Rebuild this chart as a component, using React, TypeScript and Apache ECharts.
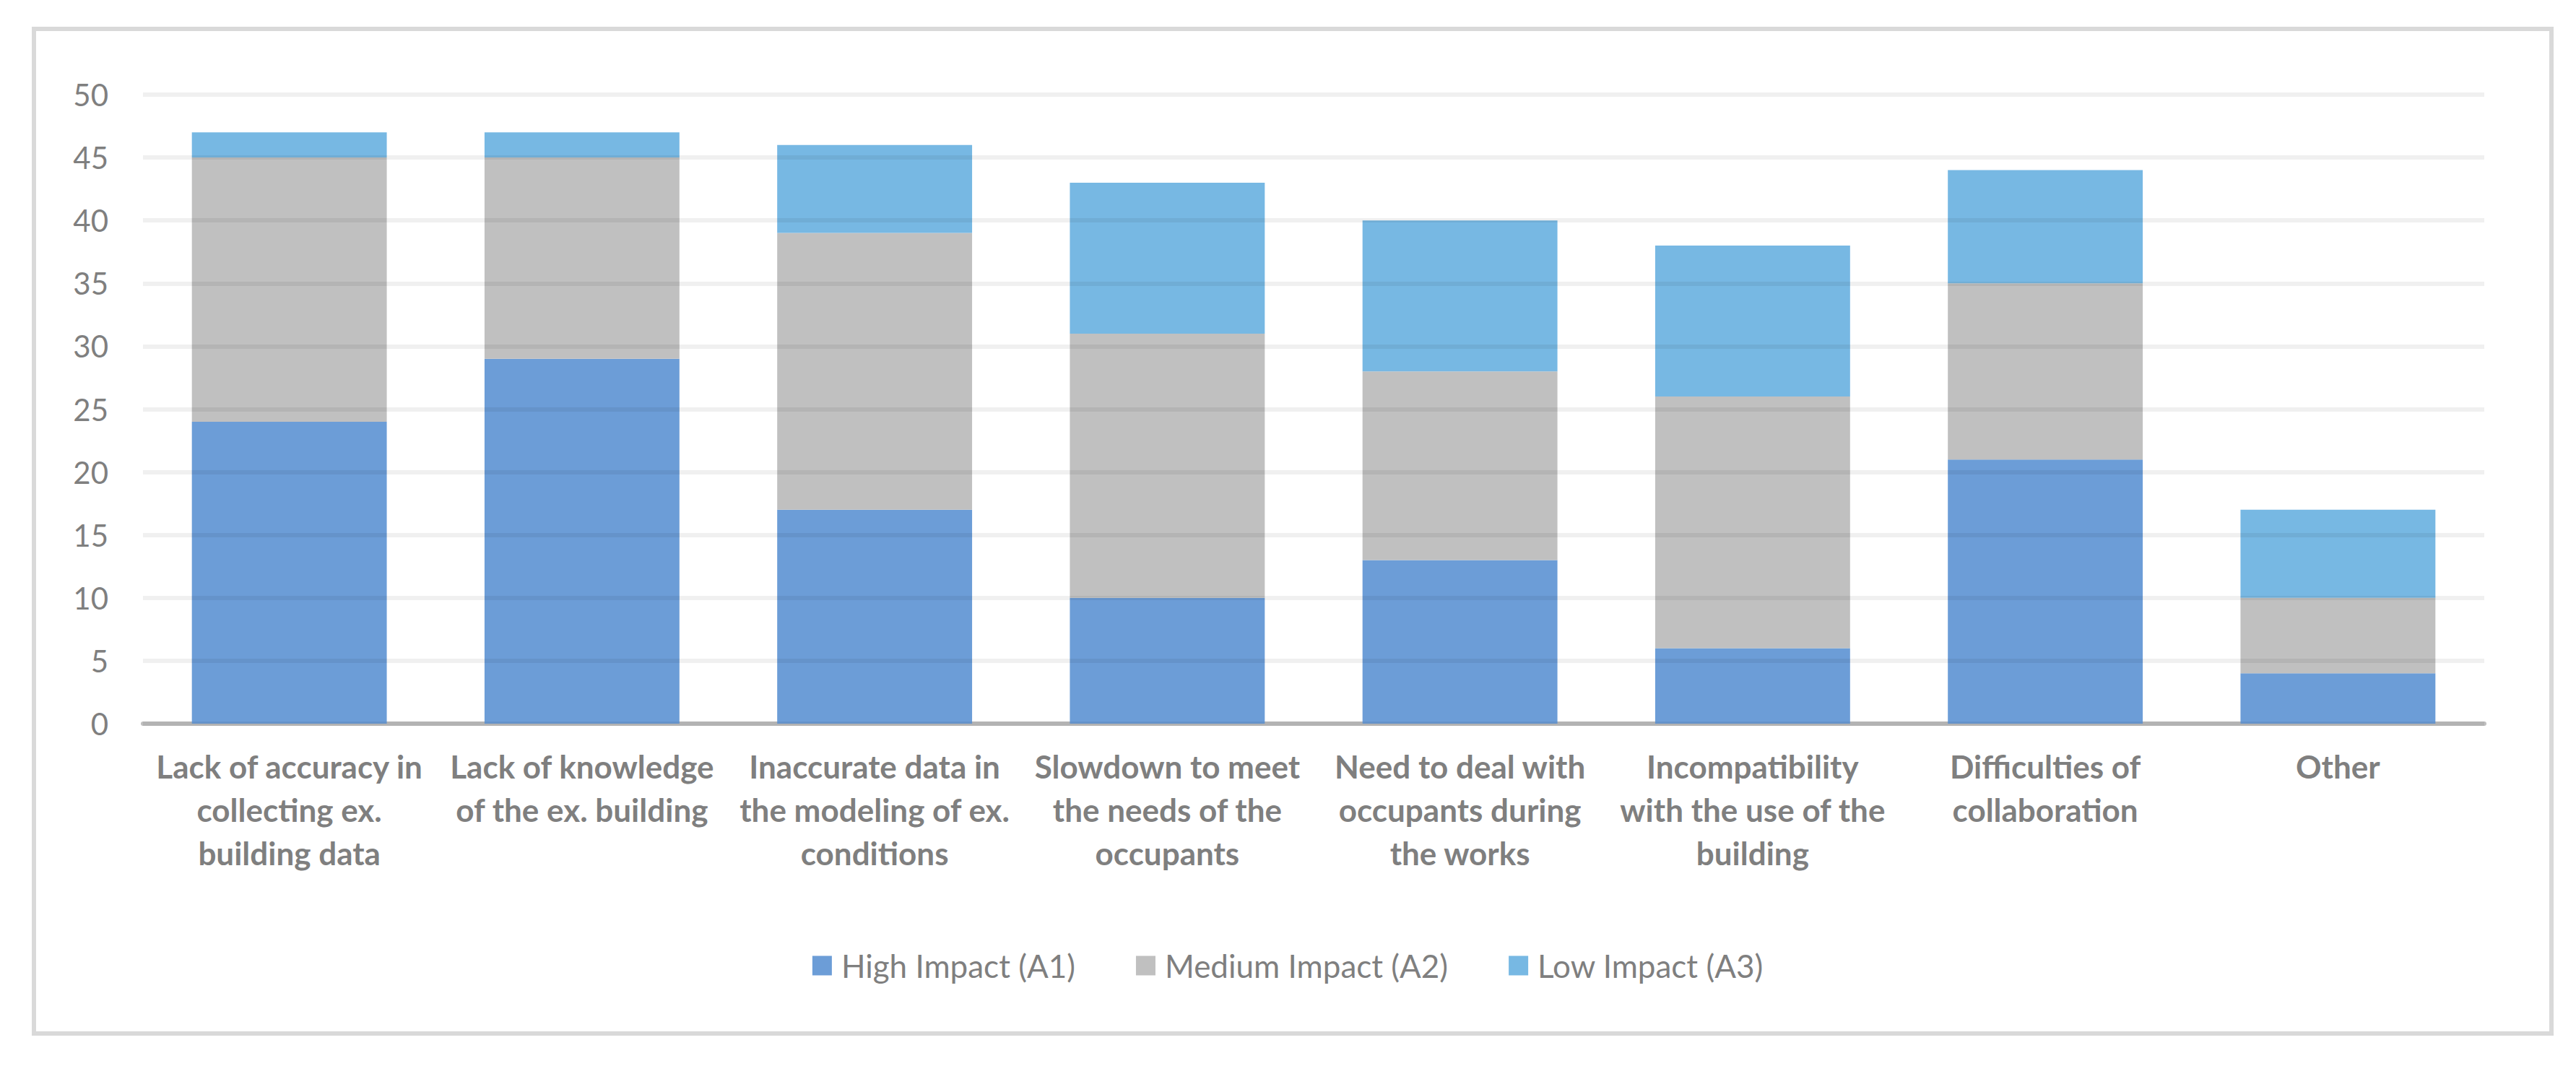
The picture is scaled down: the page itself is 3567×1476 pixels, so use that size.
import React, { useEffect, useRef } from "react";
import * as echarts from "echarts";

const categories = [
  "Lack of accuracy in\ncollecting ex.\nbuilding data",
  "Lack of knowledge\nof the ex. building",
  "Inaccurate data in\nthe modeling of ex.\nconditions",
  "Slowdown to meet\nthe needs of the\noccupants",
  "Need to deal with\noccupants during\nthe works",
  "Incompatibility\nwith the use of the\nbuilding",
  "Difficulties of\ncollaboration",
  "Other",
];

const seriesNames = ["High Impact (A1)", "Medium Impact (A2)", "Low Impact (A3)"];
const highImpact = [24, 29, 17, 10, 13, 6, 21, 4];
const mediumImpact = [21, 16, 22, 21, 15, 20, 14, 6];
const lowImpact = [2, 2, 7, 12, 12, 12, 9, 7];
const seriesColors = ["#6c9dd7", "#c0c0c0", "#77b8e3"];

const yMin = 0;
const yMax = 50;
const yInterval = 5;

export default function App() {
  const ref = useRef<HTMLDivElement>(null);

  useEffect(() => {
    document.body.style.margin = "0";
    if (!ref.current) return;
    const chart = echarts.init(ref.current, undefined, { renderer: "svg" });
    const data = [highImpact, mediumImpact, lowImpact];
    chart.setOption({
      animation: false,
      backgroundColor: "#ffffff",
      textStyle: { fontFamily: "Lato, 'Open Sans', sans-serif" },
      graphic: [
        {
          type: "rect",
          shape: { x: 47, y: 40, width: 3486, height: 1391 },
          style: { fill: "none", stroke: "#d9d9d9", lineWidth: 6 },
          silent: true,
        },
      ],
      grid: { left: 198, right: 127, top: 131, bottom: 474, containLabel: false },
      legend: {
        data: seriesNames,
        left: "center",
        top: 1310,
        itemWidth: 27,
        itemHeight: 27,
        itemGap: 84,
        icon: "rect",
        textStyle: {
          fontSize: 44,
          color: "#7f7f7f",
          fontFamily: "Lato, 'Open Sans', sans-serif",
          padding: [0, 0, 0, 8],
        },
      },
      xAxis: {
        type: "category",
        data: categories,
        axisTick: { show: false },
        axisLine: { lineStyle: { color: "#bfbfbf", width: 6 } },
        axisLabel: {
          interval: 0,
          margin: 29,
          fontSize: 44,
          fontWeight: "bold",
          color: "#7f7f7f",
          lineHeight: 60,
          fontFamily: "Lato, 'Open Sans', sans-serif",
        },
      },
      yAxis: {
        type: "value",
        min: yMin,
        max: yMax,
        interval: yInterval,
        z: 3,
        axisLine: { show: false },
        axisTick: { show: false },
        splitLine: { lineStyle: { color: "rgba(0,0,0,0.06)", width: 6 } },
        axisLabel: {
          margin: 48,
          fontSize: 42,
          color: "#7f7f7f",
          fontFamily: "Lato, 'Open Sans', sans-serif",
        },
      },
      series: seriesNames.map((name, i) => ({
        name,
        type: "bar",
        stack: "total",
        barWidth: "66.6%",
        data: data[i],
        itemStyle: { color: seriesColors[i] },
      })),
    });
    return () => chart.dispose();
  }, []);

  return <div ref={ref} style={{ width: 3567, height: 1476 }} />;
}
